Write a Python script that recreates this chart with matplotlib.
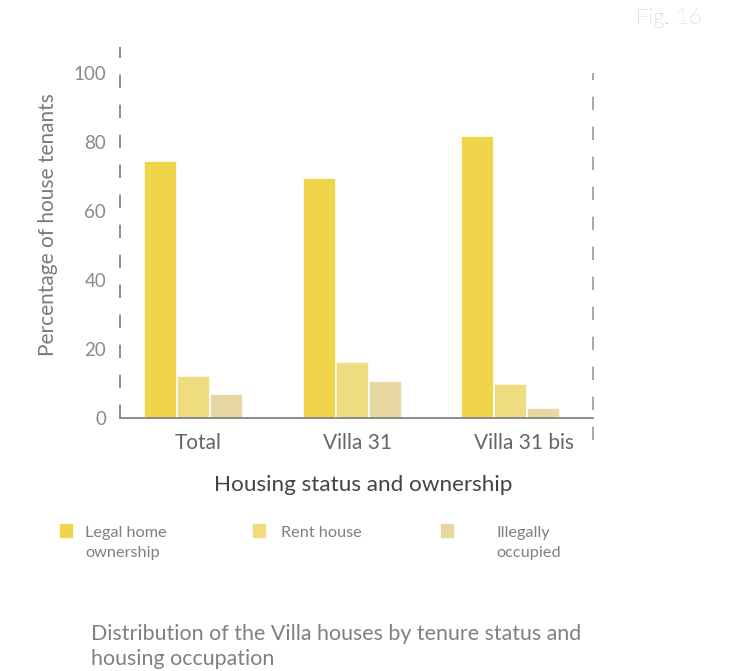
import numpy as np
import matplotlib.pyplot as plt
from matplotlib.lines import Line2D
from matplotlib.patches import Rectangle

plt.rcParams['font.family'] = ['Lato', 'DejaVu Sans']

# data
groups = ['Total', 'Villa 31', 'Villa 31 bis']
legal = [74.5, 69.6, 81.7]
rent = [12.2, 16.2, 9.9]
illegal = [7.0, 10.7, 2.9]
series_names = ['Legal home\nownership', 'Rent house', 'Illegally\noccupied']
colors = ['#f0d54a', '#efdb80', '#e6d7a3']

fig = plt.figure(figsize=(7.38, 6.71), dpi=100)
W, H = 738, 671
# axes: x 120..593, y 73(=100)..418(=0)
ax = fig.add_axes([120 / W, 1 - 418 / H, (593 - 120) / W, (418 - 73) / H])

x = np.arange(len(groups))
bw = 0.208
for i, (vals, c) in enumerate(zip([legal, rent, illegal], colors)):
    ax.bar(x + (i - 1) * bw, vals, width=bw, color=c, edgecolor='white', linewidth=1.2, zorder=2)

ax.set_xlim(-0.464, 2.517)
ax.set_ylim(0, 100)
ax.set_yticks([0, 20, 40, 60, 80, 100])
ax.set_xticks(x + np.array([0.03, 0.03, 0.08]))
ax.set_xticklabels(groups)
ax.tick_params(axis='y', length=0, pad=10, labelsize=13.5, labelcolor='#8a8a8a')
ax.tick_params(axis='x', length=0, pad=11, labelsize=15, labelcolor='#666666')

for s in ['top', 'right', 'left']:
    ax.spines[s].set_visible(False)
ax.spines['bottom'].set_color('#777777')
ax.spines['bottom'].set_linewidth(1.2)

# dashed left and right guides
ax.add_line(Line2D([-0.464, -0.464], [0, 107.5], color='#777777', lw=1.2,
                   dashes=(8, 10), clip_on=False))
ax.add_line(Line2D([2.517, 2.517], [-6.4, 100], color='#999999', lw=1.2,
                   dashes=(8, 10), clip_on=False))

ax.set_ylabel('Percentage of house tenants', fontsize=15, color='#7a7a7a')
ax.yaxis.set_label_coords(-0.131, 0.562)
ax.set_xlabel('Housing status and ownership', fontsize=16.2, color='#444444')
ax.xaxis.set_label_coords(0.514, -0.165)

# legend
leg_x = [60, 253, 441]
txt_x = [85, 281, 496]
for sx, tx, name, c in zip(leg_x, txt_x, series_names, colors):
    fig.patches.append(Rectangle((sx / W, 1 - 537 / H), 12 / W, 13 / H,
                                 transform=fig.transFigure, color=c))
    fig.text(tx / W, 1 - 526 / H, name, fontsize=11.7, color='#808080',
             va='top', ha='left', linespacing=1.55)

fig.text(91 / W, 1 - 624 / H, 'Distribution of the Villa houses by tenure status and\nhousing occupation',
         fontsize=15.4, color='#808080', va='top', ha='left', linespacing=1.3)
fig.text(702 / W, 1 - 18 / H, 'Fig. 16', fontsize=16, color='#999999',
         fontweight='light', va='center', ha='right')

fig.savefig('out.png', dpi=100)
